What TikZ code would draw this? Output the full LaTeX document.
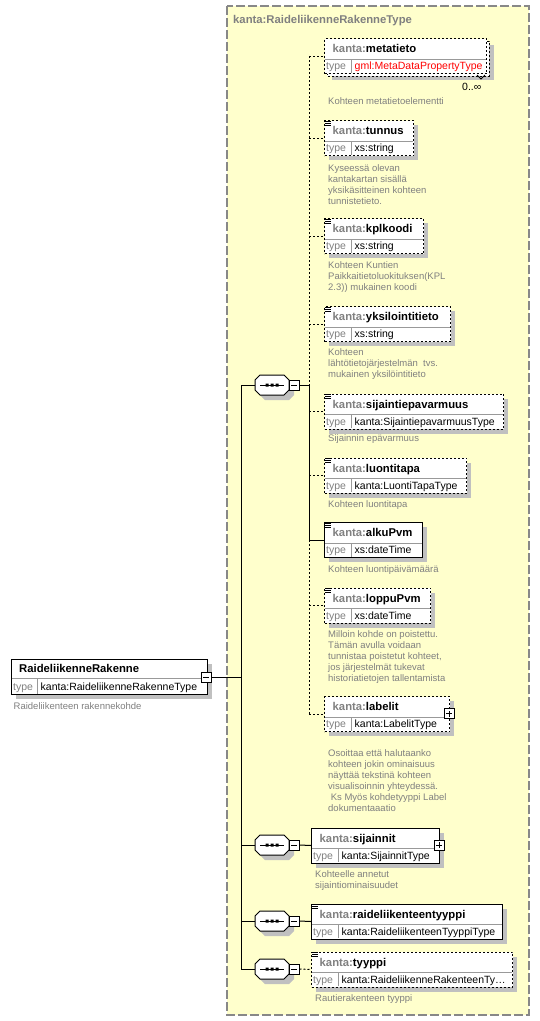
\documentclass[tikz,border=0pt]{standalone}
\usepackage{fontspec}
\setmainfont{Liberation Sans}
\definecolor{bgyellow}{HTML}{FFFFCC}
\definecolor{framegray}{HTML}{888888}
\definecolor{shad}{HTML}{C0C0C0}
\definecolor{txtgray}{HTML}{808080}
\definecolor{divgray}{HTML}{999999}
\definecolor{gmlred}{HTML}{FF0000}
\tikzset{
  reqline/.style={draw=black, line width=1pt},
  optline/.style={draw=black, line width=1pt, dash pattern=on 2pt off 2pt},
  boxreq/.style={rectangle, draw=black, fill=white, line width=1pt, inner sep=0pt, anchor=north west},
  boxopt/.style={boxreq, dash pattern=on 2pt off 2pt},
  hdr/.style={anchor=base west, inner sep=0pt, font=\fontsize{11.3}{13}\selectfont\bfseries},
  typelbl/.style={anchor=base west, inner sep=0pt, font=\fontsize{10.5}{12}\selectfont, text=txtgray},
  typeval/.style={anchor=base west, inner sep=0pt, font=\fontsize{10.5}{12}\selectfont},
  desc/.style={anchor=north west, inner sep=0pt, align=left, font=\fontsize{9.5}{11}\selectfont, text=txtgray},
  pmbox/.style={rectangle, draw=black, fill=white, line width=1pt, minimum size=10pt, inner sep=0pt},
}
% shadow of an element box
\newcommand\xsh[3]{\fill[shad] ({#1+5},{#2+5}) rectangle ({#3+5},{#2+40});}
% element box: id, left, top, right, name, type, style
\newcommand\xel[7]{%
  \node[#7, minimum width={(#4-#2)*1pt}, minimum height=35pt] (#1) at (#2,#3) {};
  \draw[divgray, line width=1pt] ({#2+0.5},{#3+21}) -- ({#4-0.5},{#3+21});
  \draw[divgray, line width=1pt] ({#2+27},{#3+21}) -- ({#2+27},{#3+34.5});
  \node[hdr] (#1-n) at ({#2+8.5},{#3+14.5}) {\textcolor{txtgray}{kanta:}#5};
  \node[typelbl] (#1-tl) at ({#2+2},{#3+31.5}) {type};
  \node[typeval] (#1-tv) at ({#2+30.5},{#3+31.5}) {#6};
}
% simple-content icon
\newcommand\xic[2]{\draw[black, line width=0.7pt] ({#1+1},{#2+1}) -- ({#1+7},{#2+1}) ({#1+1},{#2+3}) -- ({#1+7},{#2+3}) ({#1+1},{#2+5}) -- ({#1+7},{#2+5});}
% sequence compositor: id, centre y
\newcommand\xseq[2]{%
  \fill[shad] (260,{#2}) -- (265,{#2-5}) -- (289,{#2-5}) -- (294,{#2}) -- (294,{#2+10}) -- (289,{#2+15}) -- (265,{#2+15}) -- (260,{#2+10}) -- cycle;
  \node[rectangle, inner sep=0pt, minimum width=34pt, minimum height=20pt] (#1) at (272,#2) {};
  \draw[fill=white, line width=1pt] (255,{#2-5}) -- (260,{#2-10}) -- (284,{#2-10}) -- (289,{#2-5}) -- (289,{#2+5}) -- (284,{#2+10}) -- (260,{#2+10}) -- (255,{#2+5}) -- cycle;
  \draw[line width=1pt] (260,#2) -- (284,#2);
  \fill (265.5,{#2-1.5}) rectangle ++(3,3) (270.5,{#2-1.5}) rectangle ++(3,3) (275.5,{#2-1.5}) rectangle ++(3,3);
  \node[pmbox] (#1m) at (294,#2) {};
  \draw[line width=1pt] ([xshift=-3pt]#1m.center) -- ([xshift=3pt]#1m.center);
}
% plus box: id, position
\newcommand\xplus[2]{%
  \node[pmbox] (#1) at #2 {};
  \draw[line width=1pt] ([xshift=-3pt]#1.center) -- ([xshift=3pt]#1.center) ([yshift=-3pt]#1.center) -- ([yshift=3pt]#1.center);
}
\begin{document}
\begin{tikzpicture}[x=1pt, y=-1pt]
\useasboundingbox (0,0) rectangle (540,1021);
\fill[white] (0,0) rectangle (540,1021);
% complex type frame
\draw[framegray, line width=1.5pt, dash pattern=on 9pt off 3pt, fill=bgyellow] (227,6) rectangle (529,1015);
\node[anchor=base west, inner sep=0pt, font=\fontsize{11.3}{13}\selectfont\bfseries, text=txtgray] (title) at (233,23) {kanta:RaideliikenneRakenneType};

% root element
\xsh{11}{659}{207}
\node[boxreq, minimum width=196pt, minimum height=35pt] (root) at (11,659) {};
\draw[divgray, line width=1pt] (11.5,678) -- (206.5,678);
\draw[divgray, line width=1pt] (37,678) -- (37,693.5);
\node[hdr] (root-n) at (19,672.5) {RaideliikenneRakenne};
\node[typelbl] (root-tl) at (13,690.5) {type};
\node[typeval] (root-tv) at (40.5,690.5) {kanta:RaideliikenneRakenneType};
\node[desc] (root-d) at (13.5,702.3) {Raideliikenteen rakennekohde};
\node[pmbox] (rootm) at (206,677) {};
\draw[line width=1pt] ([xshift=-3pt]rootm.center) -- ([xshift=3pt]rootm.center);

% compositors
\xseq{s1}{385}
\xseq{s2}{845}
\xseq{s3}{921}
\xseq{s4}{969}

% first sequence children
\fill[shad] (332,45) rectangle (494,80);
\draw[fill=white, line width=1pt, dash pattern=on 2pt off 2pt] (327,41) rectangle (489,76);
\xel{metatieto}{324}{38}{486}{metatieto}{\textcolor{gmlred}{gml:MetaDataPropertyType}}{boxopt}
\draw[line width=0.8pt] (477,75) -- (481,79) -- (485,75);
\node[typeval] (metatieto-m) at (462,90.5) {0..∞};
\node[desc] (metatieto-d) at (328,97.6) {Kohteen metatietoelementti};

\xsh{324}{120}{413}
\xel{tunnus}{324}{120}{413}{tunnus}{xs:string}{boxopt}
\xic{324}{120}
\node[desc] (tunnus-d) at (328,164) {Kyseessä olevan\\kantakartan sisällä\\yksikäsitteinen kohteen\\tunnistetieto.};

\xsh{324}{218}{423}
\xel{kplkoodi}{324}{218}{423}{kplkoodi}{xs:string}{boxopt}
\xic{324}{218}
\node[desc] (kplkoodi-d) at (328,261.6) {Kohteen Kuntien\\Paikkaitietoluokituksen(KPL\\2.3)) mukainen koodi};

\xsh{324}{306}{450}
\xel{yksilointitieto}{324}{306}{450}{yksilointitieto}{xs:string}{boxopt}
\xic{324}{306}
\node[desc] (yksilointitieto-d) at (328,348.3) {Kohteen\\lähtötietojärjestelmän\ \ tvs.\\mukainen yksilöintitieto};

\xsh{324}{393.5}{503}
\xel{sijaintiepavarmuus}{324}{393.5}{503}{sijaintiepavarmuus}{kanta:SijaintiepavarmuusType}{boxopt}
\xic{324}{393.5}
\node[desc] (sijaintiepavarmuus-d) at (328,434.6) {Sijainnin epävarmuus};

\xsh{324}{457.5}{466}
\xel{luontitapa}{324}{457.5}{466}{luontitapa}{kanta:LuontiTapaType}{boxopt}
\xic{324}{457.5}
\node[desc] (luontitapa-d) at (328,500) {Kohteen luontitapa};

\xsh{324}{522}{422}
\xel{alkuPvm}{324}{522}{422}{alkuPvm}{xs:dateTime}{boxreq}
\xic{324}{522}
\node[desc] (alkuPvm-d) at (328,565) {Kohteen luontipäivämäärä};

\xsh{324}{587.5}{430}
\xel{loppuPvm}{324}{587.5}{430}{loppuPvm}{xs:dateTime}{boxopt}
\xic{324}{587.5}
\node[desc] (loppuPvm-d) at (328,630) {Milloin kohde on poistettu.\\Tämän avulla voidaan\\tunnistaa poistetut kohteet,\\jos järjestelmät tukevat\\historiatietojen tallentamista};

\xsh{324}{696}{449}
\xel{labelit}{324}{696}{449}{labelit}{kanta:LabelitType}{boxopt}
\xplus{labelitp}{(449,713.5)}
\node[desc] (labelit-d) at (328,749.6) {Osoittaa että halutaanko\\kohteen jokin ominaisuus\\näyttää tekstinä kohteen\\visualisoinnin yhteydessä.\\\ Ks Myös kohdetyyppi Label\\dokumentaaatio};

% other sequences
\xsh{311}{827.5}{439}
\xel{sijainnit}{311}{827.5}{439}{sijainnit}{kanta:SijainnitType}{boxreq}
\xplus{sijainnitp}{(439,845)}
\node[desc] (sijainnit-d) at (315,870) {Kohteelle annetut\\sijaintiominaisuudet};

\xsh{311}{903.5}{502}
\xel{raideliikenteentyyppi}{311}{903.5}{502}{raideliikenteentyyppi}{kanta:RaideliikenteenTyyppiType}{boxreq}
\xic{311}{903.5}

\xsh{311}{951.5}{512}
\xel{tyyppi}{311}{951.5}{512}{tyyppi}{kanta:RaideliikenneRakenteenTy…}{boxopt}
\xic{311}{951.5}
\node[desc] (tyyppi-d) at (315,994) {Rautierakenteen tyyppi};

% connectors
\coordinate (tr0) at (241,677);
\coordinate (v1) at (309,385);
\draw[reqline] (rootm.east) -- (tr0);
\draw[reqline] (s1.west -| tr0) -- (s4.west -| tr0);
\foreach \s in {s1,s2,s3,s4} \draw[reqline] (\s.west -| tr0) -- (\s.west);
\draw[reqline] (s1m.east) -- (v1);
\draw[optline] (v1 |- metatieto.west) -- (v1);
\draw[reqline] (v1) -- (v1 |- alkuPvm.west);
\draw[optline] (v1 |- alkuPvm.west) -- (v1 |- labelit.west);
\foreach \e in {metatieto,tunnus,kplkoodi,yksilointitieto,sijaintiepavarmuus,luontitapa,loppuPvm,labelit} \draw[optline] (v1 |- \e.west) -- (\e.west);
\draw[reqline] (v1 |- alkuPvm.west) -- (alkuPvm.west);
\draw[reqline] (s2m.east) -- (sijainnit.west);
\draw[reqline] (s3m.east) -- (raideliikenteentyyppi.west);
\draw[optline] (s4m.east) -- (tyyppi.west);
\end{tikzpicture}
\end{document}
